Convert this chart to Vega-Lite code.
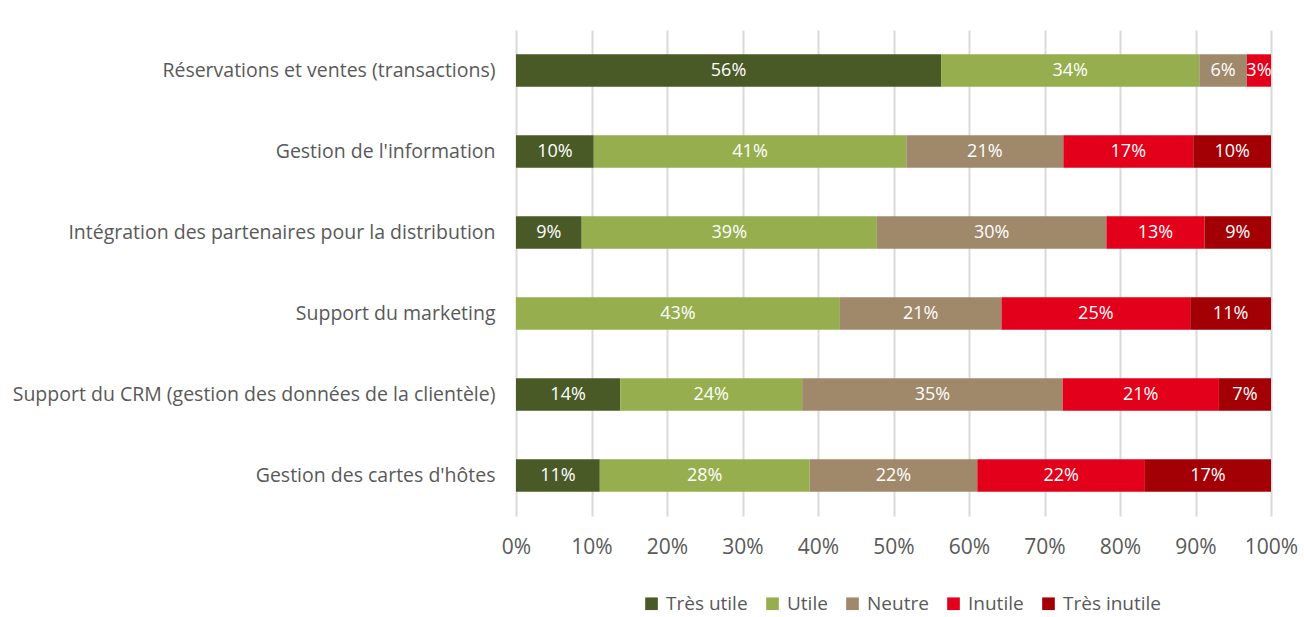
{
  "$schema": "https://vega.github.io/schema/vega-lite/v6.json",
  "width": 755,
  "height": 486,
  "autosize": {"type": "none"},
  "padding": {"left": 516, "top": 30, "right": 33, "bottom": 101},
  "background": "white",
  "config": {
    "view": {"stroke": null},
    "font": "Open Sans",
    "axisX": {
      "title": null,
      "labelOverlap": false,
      "labelFlush": false,
      "domain": false,
      "ticks": false,
      "grid": true,
      "gridColor": "#d9d9d9",
      "gridWidth": 2,
      "labelPadding": 20,
      "labelFontSize": 21,
      "labelColor": "#595959"
    }
  },
  "data": {
    "values": [
      {"cat": "Réservations et ventes (transactions)", "rep": "Très utile", "o": 1, "v": 0.563},
      {"cat": "Réservations et ventes (transactions)", "rep": "Utile", "o": 2, "v": 0.342},
      {"cat": "Réservations et ventes (transactions)", "rep": "Neutre", "o": 3, "v": 0.063},
      {"cat": "Réservations et ventes (transactions)", "rep": "Inutile", "o": 4, "v": 0.032},
      {"cat": "Gestion de l'information", "rep": "Très utile", "o": 1, "v": 0.103},
      {"cat": "Gestion de l'information", "rep": "Utile", "o": 2, "v": 0.414},
      {"cat": "Gestion de l'information", "rep": "Neutre", "o": 3, "v": 0.208},
      {"cat": "Gestion de l'information", "rep": "Inutile", "o": 4, "v": 0.172},
      {"cat": "Gestion de l'information", "rep": "Très inutile", "o": 5, "v": 0.103},
      {"cat": "Intégration des partenaires pour la distribution", "rep": "Très utile", "o": 1, "v": 0.087},
      {"cat": "Intégration des partenaires pour la distribution", "rep": "Utile", "o": 2, "v": 0.391},
      {"cat": "Intégration des partenaires pour la distribution", "rep": "Neutre", "o": 3, "v": 0.304},
      {"cat": "Intégration des partenaires pour la distribution", "rep": "Inutile", "o": 4, "v": 0.130},
      {"cat": "Intégration des partenaires pour la distribution", "rep": "Très inutile", "o": 5, "v": 0.088},
      {"cat": "Support du marketing", "rep": "Utile", "o": 2, "v": 0.429},
      {"cat": "Support du marketing", "rep": "Neutre", "o": 3, "v": 0.214},
      {"cat": "Support du marketing", "rep": "Inutile", "o": 4, "v": 0.250},
      {"cat": "Support du marketing", "rep": "Très inutile", "o": 5, "v": 0.107},
      {"cat": "Support du CRM (gestion des données de la clientèle)", "rep": "Très utile", "o": 1, "v": 0.138},
      {"cat": "Support du CRM (gestion des données de la clientèle)", "rep": "Utile", "o": 2, "v": 0.241},
      {"cat": "Support du CRM (gestion des données de la clientèle)", "rep": "Neutre", "o": 3, "v": 0.345},
      {"cat": "Support du CRM (gestion des données de la clientèle)", "rep": "Inutile", "o": 4, "v": 0.207},
      {"cat": "Support du CRM (gestion des données de la clientèle)", "rep": "Très inutile", "o": 5, "v": 0.069},
      {"cat": "Gestion des cartes d'hôtes", "rep": "Très utile", "o": 1, "v": 0.111},
      {"cat": "Gestion des cartes d'hôtes", "rep": "Utile", "o": 2, "v": 0.278},
      {"cat": "Gestion des cartes d'hôtes", "rep": "Neutre", "o": 3, "v": 0.222},
      {"cat": "Gestion des cartes d'hôtes", "rep": "Inutile", "o": 4, "v": 0.222},
      {"cat": "Gestion des cartes d'hôtes", "rep": "Très inutile", "o": 5, "v": 0.167}
    ]
  },
  "transform": [
    {"stack": "v", "groupby": ["cat"], "sort": [{"field": "o", "order": "ascending"}], "offset": "normalize", "as": ["v0", "v1"]},
    {"calculate": "(datum.v0 + datum.v1) / 2", "as": "mid"}
  ],
  "encoding": {
    "y": {
      "field": "cat",
      "type": "nominal",
      "sort": [
        "Réservations et ventes (transactions)",
        "Gestion de l'information",
        "Intégration des partenaires pour la distribution",
        "Support du marketing",
        "Support du CRM (gestion des données de la clientèle)",
        "Gestion des cartes d'hôtes"
      ],
      "scale": {"paddingInner": 0.6, "paddingOuter": 0.3},
      "axis": {
        "title": null,
        "domain": false,
        "ticks": false,
        "labelPadding": 21,
        "labelFontSize": 19.5,
        "labelColor": "#595959",
        "labelLimit": 600
      }
    }
  },
  "layer": [
    {
      "mark": {"type": "bar"},
      "encoding": {
        "x": {
          "field": "v0",
          "type": "quantitative",
          "scale": {"domain": [0, 1]},
          "axis": {"format": ".0%", "values": [0, 0.1, 0.2, 0.3, 0.4, 0.5, 0.6, 0.7, 0.8, 0.9, 1]}
        },
        "x2": {"field": "v1"},
        "color": {
          "field": "rep",
          "type": "nominal",
          "scale": {
            "domain": ["Très utile", "Utile", "Neutre", "Inutile", "Très inutile"],
            "range": ["#4a5a27", "#96ae4e", "#a0896a", "#e2001a", "#a30006"]
          },
          "legend": {
            "title": null,
            "orient": "none",
            "legendX": 126,
            "legendY": 564,
            "direction": "horizontal",
            "symbolType": "square",
            "symbolSize": 160,
            "symbolStrokeWidth": 0,
            "labelFontSize": 19,
            "labelColor": "#595959",
            "columnPadding": 15,
            "labelOffset": 5
          }
        }
      }
    },
    {
      "mark": {"type": "text", "color": "white", "fontSize": 18, "align": "center", "baseline": "middle"},
      "encoding": {
        "x": {
          "field": "mid",
          "type": "quantitative",
          "axis": {"format": ".0%", "values": [0, 0.1, 0.2, 0.3, 0.4, 0.5, 0.6, 0.7, 0.8, 0.9, 1]}
        },
        "text": {"field": "v", "type": "quantitative", "format": ".0%"}
      }
    }
  ]
}
